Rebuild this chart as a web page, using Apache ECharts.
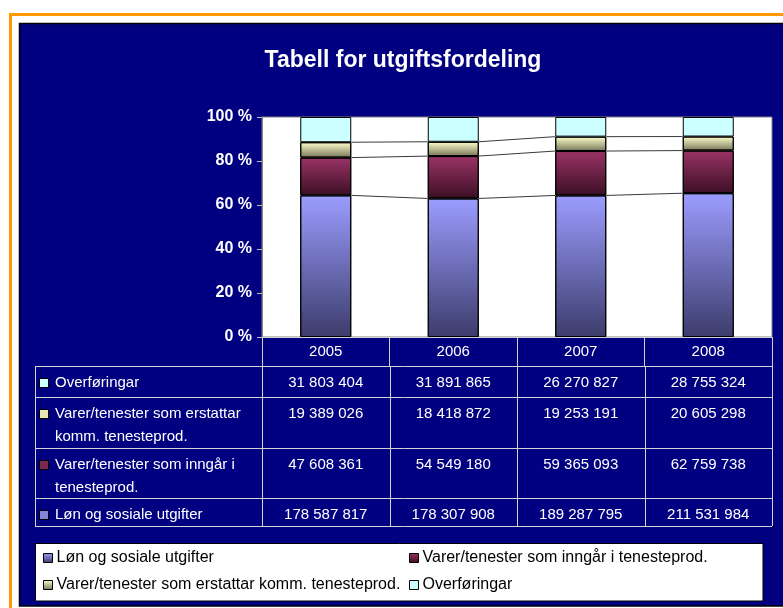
<!DOCTYPE html>
<html>
<head>
<meta charset="utf-8">
<script src="https://cdn.jsdelivr.net/npm/echarts@6/dist/echarts.min.js"></script>
<style>
html,body{margin:0;padding:0;background:#fff;}
#chart{width:783px;height:608px;}
</style>
</head>
<body>
<div id="chart"></div>
<script>
// ---- data ----
const categories = ['2005', '2006', '2007', '2008'];
const seriesNames = [
  'Løn og sosiale utgifter',
  'Varer/tenester som inngår i tenesteprod.',
  'Varer/tenester som erstattar komm. tenesteprod.',
  'Overføringar'
];
const lon = [178587817, 178307908, 189287795, 211531984];
const inngar = [47608361, 54549180, 59365093, 62759738];
const erstattar = [19389026, 18418872, 19253191, 20605298];
const overforingar = [31803404, 31891865, 26270827, 28755324];
const yTickLabels = [0, 20, 40, 60, 80, 100];
// table label lines (row order in table: top to bottom)
const tableRowSeries = [3, 2, 1, 0];
const tableLabelLines = [
  ['Overføringar'],
  ['Varer/tenester som erstattar', 'komm. tenesteprod.'],
  ['Varer/tenester som inngår i', 'tenesteprod.'],
  ['Løn og sosiale utgifter']
];

// ---- styles ----
const FONT = 'Arial, "Liberation Sans", sans-serif';
function grad(top, bottom) {
  return { type: 'linear', x: 0, y: 0, x2: 0, y2: 1, colorStops: [{ offset: 0, color: top }, { offset: 1, color: bottom }] };
}
const seriesColors = [
  grad('#9c9cff', '#3c3c6c'),
  grad('#9a3366', '#3c0f24'),
  grad('#ffffcc', '#77775a'),
  '#ccffff'
];
const markerColors = ['#8484d8', '#7a2850', '#e4e4b8', '#ccffff'];

const raw = [lon, inngar, erstattar, overforingar];
const totals = categories.map((c, i) => raw.reduce((s, arr) => s + arr[i], 0));
const pct = raw.map(arr => arr.map((v, i) => v / totals[i] * 100));
// cumulative boundaries
const cum = [];
let acc = categories.map(() => 0);
for (let k = 0; k < 3; k++) {
  acc = acc.map((a, i) => a + pct[k][i]);
  cum.push(acc.slice());
}
const lineData = [];
for (let i = 0; i < categories.length - 1; i++) {
  lineData.push([i, cum[0][i], cum[0][i + 1], cum[1][i], cum[1][i + 1], cum[2][i], cum[2][i + 1]]);
}

const BAR_RATIO = 0.4;
const chart = echarts.init(document.getElementById('chart'), null, { renderer: 'canvas' });

const barSeries = seriesNames.map((name, k) => ({
  name: name,
  type: 'bar',
  stack: 'total',
  barWidth: (BAR_RATIO * 100) + '%',
  data: pct[k],
  itemStyle: { color: seriesColors[k], borderColor: '#000', borderWidth: 1 },
  emphasis: { disabled: true },
  z: 2
}));

const seriesLines = {
  type: 'custom',
  name: 'serieslines',
  silent: true,
  z: 3,
  encode: { x: 0, y: [1, 2, 3, 4, 5, 6] },
  data: lineData,
  renderItem: function (params, api) {
    const i = api.value(0);
    const bw = api.size([1, 0])[0] * BAR_RATIO;
    const children = [];
    for (let k = 0; k < 3; k++) {
      const a = api.coord([i, api.value(1 + 2 * k)]);
      const b = api.coord([i + 1, api.value(2 + 2 * k)]);
      children.push({
        type: 'line',
        shape: { x1: a[0] + bw / 2, y1: a[1], x2: b[0] - bw / 2, y2: b[1] },
        style: { stroke: '#3a3a3a', lineWidth: 1 }
      });
    }
    return { type: 'group', children: children };
  }
};

function legendItem(k, left, top) {
  return {
    data: [seriesNames[k]],
    left: left, top: top, orient: 'horizontal',
    itemWidth: 9, itemHeight: 9, itemGap: 0, selectedMode: false,
    icon: 'rect', padding: 0,
    itemStyle: { borderColor: '#000', borderWidth: 1 },
    textStyle: { color: '#000', fontSize: 16, fontFamily: FONT, padding: [0, 0, 0, -1] }
  };
}

const option = {
  animation: false,
  backgroundColor: '#fff',
  title: {
    text: 'Tabell for utgiftsfordeling',
    left: 398, top: 44, textAlign: 'center',
    textStyle: { color: '#fff', fontSize: 23, fontWeight: 'bold', fontFamily: FONT }
  },
  grid: {
    left: 262, top: 117, width: 510, height: 220,
    show: true, backgroundColor: '#fff', borderColor: '#808080', borderWidth: 1
  },
  legend: [
    legendItem(0, 43, 550),
    legendItem(1, 409, 550),
    legendItem(2, 43, 577),
    legendItem(3, 409, 577)
  ],
  xAxis: {
    type: 'category',
    data: categories,
    axisLine: { show: true, lineStyle: { color: '#d0d0d0', width: 1 } },
    axisTick: { show: true, length: 29, interval: 0, lineStyle: { color: '#d0d0d0', width: 1 } },
    axisLabel: { color: '#fff', fontSize: 15, fontFamily: FONT, margin: 7 },
    splitLine: { show: false }
  },
  yAxis: {
    type: 'value',
    min: 0, max: 100, interval: 20,
    axisLine: { show: true, lineStyle: { color: '#808080' } },
    axisTick: { show: true, length: 5, lineStyle: { color: '#c0c0c0' } },
    axisLabel: {
      color: '#fff', fontSize: 16, fontWeight: 'bold', fontFamily: FONT, margin: 10,
      formatter: function (v) { return yTickLabels.indexOf(v) >= 0 ? v + ' %' : ''; }
    },
    splitLine: { show: false }
  },
  series: barSeries.concat([seriesLines]),
  graphic: []
};

chart.setOption(option);

// ---- frame, table and legend box via graphic ----
function fmt(n) { return String(n).replace(/\B(?=(\d{3})+(?!\d))/g, ' '); }
const colX = categories.map((c, i) => chart.convertToPixel({ xAxisIndex: 0 }, i));
const bandW = colX.length > 1 ? colX[1] - colX[0] : 127.5;
const bounds = colX.map(x => x - bandW / 2).concat([colX[colX.length - 1] + bandW / 2]);
const tableLeft = 35;
const rowTops = [366, 397, 448, 498];
const tableBottom = 526;
const LINE = '#d4d4d4';

const g = [];
// orange outer frame
g.push({ type: 'rect', z: -10, silent: true, shape: { x: 10.5, y: 14.5, width: 800, height: 620 }, style: { fill: '#fff', stroke: '#ff9900', lineWidth: 3 } });
// navy panel
g.push({ type: 'rect', z: -9, silent: true, shape: { x: 19.5, y: 23.5, width: 800, height: 582.5 }, style: { fill: '#000080', stroke: '#000', lineWidth: 1.5 } });
// legend box
g.push({ type: 'rect', z: -8, silent: true, shape: { x: 35.5, y: 543.5, width: 727.5, height: 57.5 }, style: { fill: '#fff', stroke: '#000', lineWidth: 1 } });

// table horizontal lines
rowTops.concat([tableBottom]).forEach(y => {
  g.push({ type: 'line', silent: true, shape: { x1: tableLeft, y1: y + 0.5, x2: bounds[bounds.length - 1], y2: y + 0.5 }, style: { stroke: LINE, lineWidth: 1 } });
});
// vertical lines
g.push({ type: 'line', silent: true, shape: { x1: tableLeft + 0.5, y1: rowTops[0], x2: tableLeft + 0.5, y2: tableBottom }, style: { stroke: LINE, lineWidth: 1 } });
bounds.forEach(x => {
  g.push({ type: 'line', silent: true, shape: { x1: Math.round(x) + 0.5, y1: rowTops[0], x2: Math.round(x) + 0.5, y2: tableBottom }, style: { stroke: LINE, lineWidth: 1 } });
});

tableRowSeries.forEach((k, r) => {
  const top = rowTops[r];
  const y1 = top + 16.5;
  // marker
  g.push({ type: 'rect', silent: true, z: 5, shape: { x: 39.5, y: Math.round(y1 - 5) + 0.5, width: 9, height: 9 }, style: { fill: markerColors[k], stroke: '#000', lineWidth: 1 } });
  tableLabelLines[r].forEach((txt, li) => {
    g.push({ type: 'text', silent: true, x: 55, y: y1 + li * 23.5, style: { text: txt, fill: '#fff', font: '15px ' + FONT, textVerticalAlign: 'middle', textAlign: 'left' } });
  });
  raw[k].forEach((v, i) => {
    g.push({ type: 'text', silent: true, x: colX[i], y: y1, style: { text: fmt(v), fill: '#fff', font: '15px ' + FONT, textVerticalAlign: 'middle', textAlign: 'center' } });
  });
});

chart.setOption({ graphic: g });
</script>
</body>
</html>
